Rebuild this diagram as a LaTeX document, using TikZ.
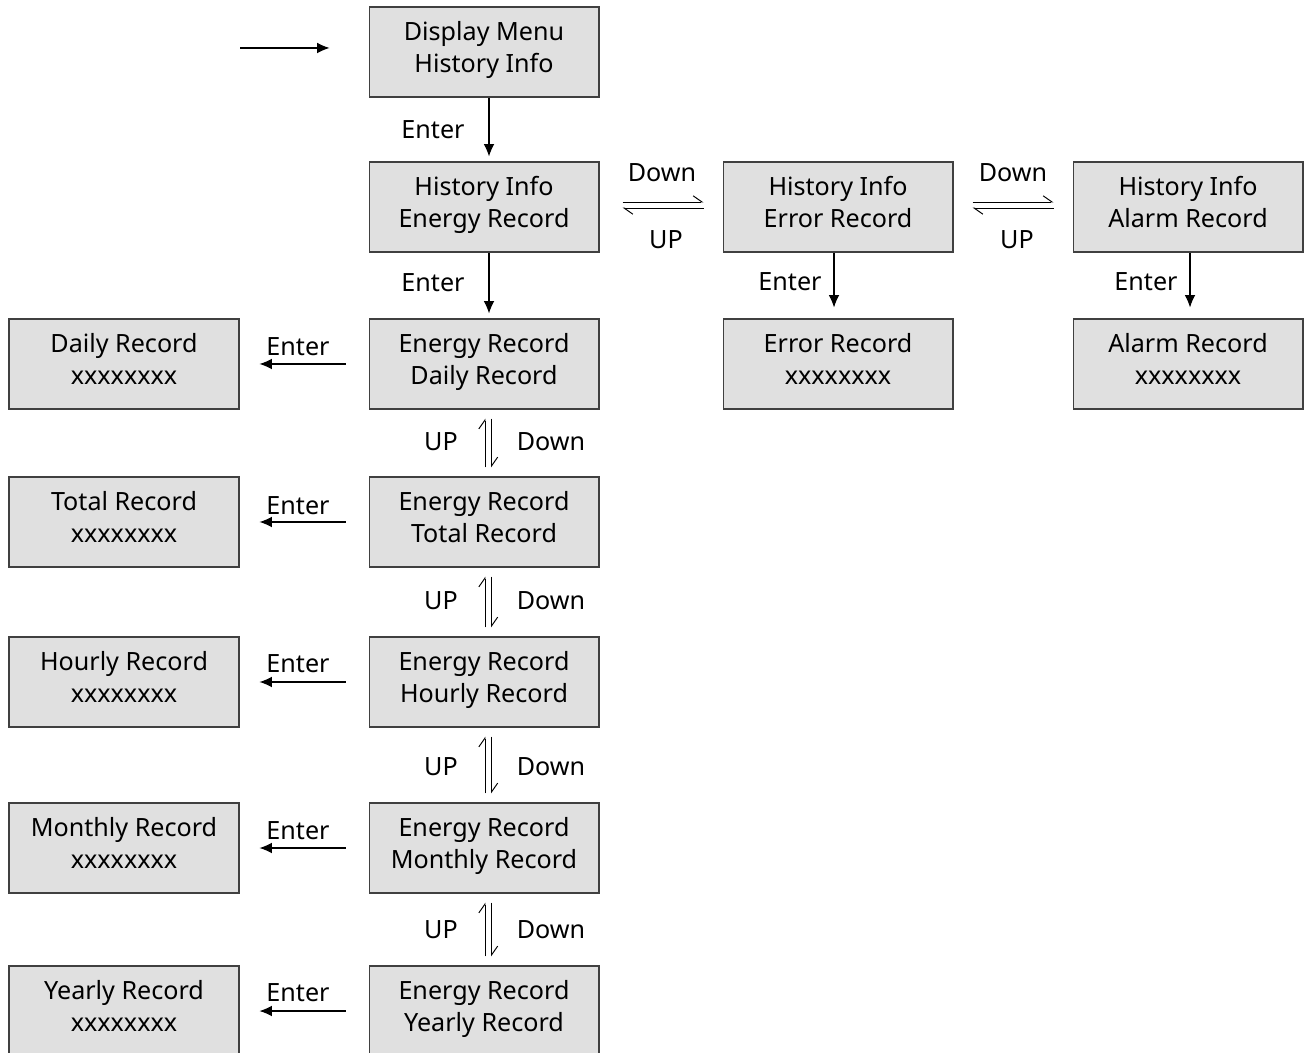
\documentclass[tikz,border=0pt]{standalone}
\usepackage{fontspec}
\setmainfont{Noto Sans}
\usetikzlibrary{arrows.meta,positioning}

\tikzset{
  menubox/.style={draw=black!75, fill=black!12, line width=0.6pt,
    minimum width=4.6cm, minimum height=1.8cm, inner sep=0pt,
    align=center, font=\fontsize{14.3}{18.1}\selectfont,
    execute at begin node={\rule{0pt}{16pt}}, execute at end node={\strut}},
  enterarr/.style={-{Latex[length=7pt,width=6pt]}, line width=0.6pt},
  harp/.style={-{Straight Barb[harpoon,length=5pt,width=7pt]}, line width=0.55pt},
  lbl/.style={inner sep=0pt, font=\fontsize{14.3}{17}\selectfont}
}

\begin{document}
\begin{tikzpicture}[x=0.02cm, y=-0.02cm]
    \useasboundingbox (0,0) rectangle (1308,1053);

    % Top of the menu
    \node[menubox] (disp) at (484,52) {Display Menu\\History Info};
    \coordinate (start) at (240,48);
    \draw[enterarr, shorten >=0.78cm] (start) -- (start -| disp.west);

    % History info row
    \node[menubox] (hist) at (484,207) {History Info\\Energy Record};
    \node[menubox] (herr) at (838,207) {History Info\\Error Record};
    \node[menubox] (halm) at (1188,207) {History Info\\Alarm Record};

    \draw[enterarr, shorten >=0.1cm] ([xshift=0.1cm]disp.south) -- ([xshift=0.1cm]hist.north);
    \node[lbl] (lenter0) at (433,130) {Enter};

    % Down / UP between history pages
    \draw[harp, shorten <=0.46cm, shorten >=0.38cm] ([yshift=0.1cm]hist.east) -- ([yshift=0.1cm]herr.west);
    \draw[harp, shorten <=0.38cm, shorten >=0.46cm] ([yshift=-0.02cm]herr.west) -- ([yshift=-0.02cm]hist.east);
    \node[lbl] (ldown1) at (662,173) {Down};
    \node[lbl] (lup1) at (666,240) {UP};

    \draw[harp, shorten <=0.38cm, shorten >=0.38cm] ([yshift=0.1cm]herr.east) -- ([yshift=0.1cm]halm.west);
    \draw[harp, shorten <=0.38cm, shorten >=0.38cm] ([yshift=-0.02cm]halm.west) -- ([yshift=-0.02cm]herr.east);
    \node[lbl] (ldown2) at (1013,173) {Down};
    \node[lbl] (lup2) at (1017,240) {UP};

    % Error and alarm records
    \node[menubox] (err) at (838,364) {Error Record\\xxxxxxxx};
    \node[menubox] (alm) at (1188,364) {Alarm Record\\xxxxxxxx};
    \draw[enterarr, shorten >=0.22cm] ([xshift=-0.08cm]herr.south) -- ([xshift=-0.08cm]err.north);
    \node[lbl] (lenter1) at (790,282) {Enter};
    \draw[enterarr, shorten >=0.22cm] ([xshift=0.04cm]halm.south) -- ([xshift=0.04cm]alm.north);
    \node[lbl] (lenter2) at (1146,282) {Enter};

    % Energy record pages
    \node[menubox] (edaily) at (484,364) {Energy Record\\Daily Record};
    \node[menubox] (etotal) at (484,522) {Energy Record\\Total Record};
    \node[menubox] (ehourly) at (484,682) {Energy Record\\Hourly Record};
    \node[menubox] (emonthly) at (484,848) {Energy Record\\Monthly Record};
    \node[menubox] (eyearly) at (484,1011) {Energy Record\\Yearly Record};

    \draw[enterarr, shorten >=0.1cm] ([xshift=0.1cm]hist.south) -- ([xshift=0.1cm]edaily.north);
    \node[lbl] (lenter3) at (433,283) {Enter};

    % Record contents
    \node[menubox] (daily) at (124,364) {Daily Record\\xxxxxxxx};
    \node[menubox] (total) at (124,522) {Total Record\\xxxxxxxx};
    \node[menubox] (hourly) at (124,682) {Hourly Record\\xxxxxxxx};
    \node[menubox] (monthly) at (124,848) {Monthly Record\\xxxxxxxx};
    \node[menubox] (yearly) at (124,1011) {Yearly Record\\xxxxxxxx};

    \foreach \e/\r/\ly in {edaily/daily/347, etotal/total/506, ehourly/hourly/664,
                          emonthly/monthly/831, eyearly/yearly/993} {
        \draw[enterarr, shorten <=0.46cm, shorten >=0.4cm] (\e.west) -- (\r.east);
        \node[lbl] (lenter\r) at (298,\ly) {Enter};
    }

    % UP / Down between energy pages
    \foreach \a/\b/\ly in {edaily/etotal/442, etotal/ehourly/601,
                          ehourly/emonthly/767, emonthly/eyearly/930} {
        \draw[harp, shorten <=0.18cm, shorten >=0.18cm] ([xshift=0.02cm]\b.north) -- ([xshift=0.02cm]\a.south);
        \draw[harp, shorten <=0.18cm, shorten >=0.18cm] ([xshift=0.15cm]\a.south) -- ([xshift=0.15cm]\b.north);
        \node[lbl] (lup\a) at (441,\ly) {UP};
        \node[lbl] (ldown\a) at (551,\ly) {Down};
    }
\end{tikzpicture}
\end{document}
